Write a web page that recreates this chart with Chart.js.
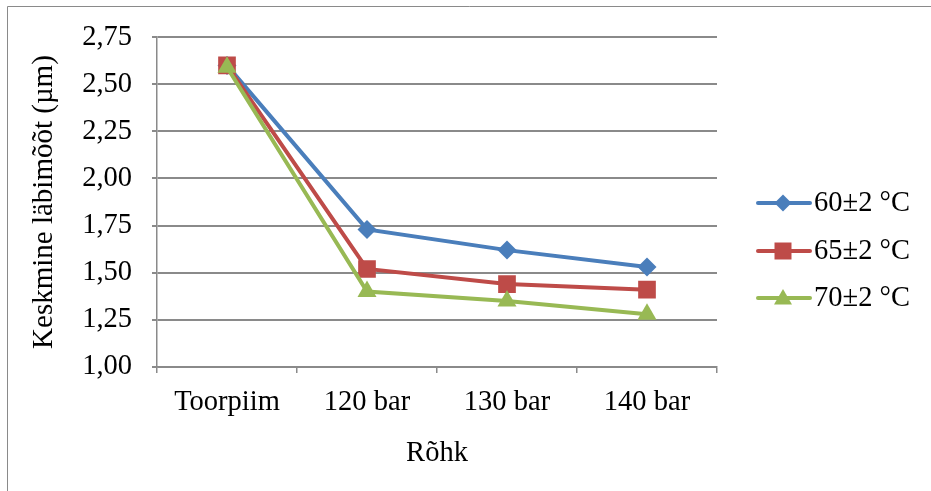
<!DOCTYPE html>
<html>
<head>
<meta charset="utf-8">
<script src="https://cdn.jsdelivr.net/npm/chart.js@4/dist/chart.umd.min.js"></script>
<style>
  html, body { margin: 0; padding: 0; background: #fff; }
  #wrap { position: relative; width: 931px; height: 491px; }
</style>
</head>
<body>
<div id="wrap"><canvas id="c" width="931" height="491"></canvas></div>
<script>
// Categories along the pressure axis
const categories = ['Toorpiim', '120 bar', '130 bar', '140 bar'];

// Mean particle size (µm) per temperature
const series60 = [2.60, 1.73, 1.62, 1.53];
const series65 = [2.60, 1.52, 1.44, 1.41];
const series70 = [2.59, 1.40, 1.35, 1.28];

const seriesLabels = ['60±2 °C', '65±2 °C', '70±2 °C'];

// Value axis settings
const yMin = 1.0, yMax = 2.75, yStep = 0.25;

const FONT = 'Liberation Serif, "Times New Roman", serif';
const colors = ['#4A7EBB', '#BE4B48', '#98B954'];
const markers = ['rectRot', 'rect', 'triangle'];
const markerRadius = [9.5, 12.5, 11];

function fmt(v) { return v.toFixed(2).replace('.', ','); }

// Small legend marker, sized like the key symbols
function drawKeyMarker(ctx, style, x, y, color) {
  ctx.save();
  ctx.fillStyle = color;
  ctx.beginPath();
  if (style === 'rectRot') {
    const r = 8.5;
    ctx.moveTo(x, y - r); ctx.lineTo(x + r, y); ctx.lineTo(x, y + r); ctx.lineTo(x - r, y);
  } else if (style === 'rect') {
    const r = 8.5;
    ctx.rect(x - r, y - r, 2 * r, 2 * r);
  } else {
    ctx.moveTo(x, y - 9); ctx.lineTo(x + 9, y + 6.5); ctx.lineTo(x - 9, y + 6.5);
  }
  ctx.closePath();
  ctx.fill();
  ctx.restore();
}

// Outer frame and side legend (line + marker, then label)
const framePlugin = {
  id: 'frameAndLegend',
  beforeDraw(chart) {
    const ctx = chart.ctx;
    ctx.save();
    ctx.strokeStyle = '#8a8a8a';
    ctx.lineWidth = 1;
    ctx.beginPath();
    ctx.moveTo(7.5, 500); ctx.lineTo(7.5, 6.5); ctx.lineTo(940, 6.5);
    ctx.stroke();
    ctx.restore();
  },
  afterDraw(chart) {
    const ctx = chart.ctx;
    const rows = [203, 251, 298];
    chart.data.datasets.forEach((ds, i) => {
      const y = rows[i];
      ctx.save();
      ctx.strokeStyle = ds.borderColor;
      ctx.lineWidth = 4;
      ctx.lineCap = 'round';
      ctx.beginPath();
      ctx.moveTo(758, y); ctx.lineTo(810, y);
      ctx.stroke();
      ctx.restore();
      drawKeyMarker(ctx, ds.pointStyle, 783, y, ds.pointBackgroundColor);
      ctx.save();
      ctx.fillStyle = '#000';
      ctx.font = '28.5px ' + FONT;
      ctx.textBaseline = 'middle';
      ctx.textAlign = 'left';
      ctx.fillText(ds.label, 814, y + 1);
      ctx.restore();
    });
  }
};

const seriesData = [series60, series65, series70];
const datasets = seriesData.map((d, i) => ({
  label: seriesLabels[i],
  data: d,
  order: 3 - i,
  borderColor: colors[i],
  backgroundColor: colors[i],
  pointBackgroundColor: colors[i],
  pointBorderColor: colors[i],
  pointBorderWidth: 0,
  pointStyle: markers[i],
  pointRadius: markerRadius[i],
  pointHoverRadius: markerRadius[i],
  borderWidth: 4,
  tension: 0,
  fill: false
}));

new Chart(document.getElementById('c'), {
  type: 'line',
  data: { labels: categories, datasets },
  options: {
    responsive: false,
    animation: false,
    devicePixelRatio: 1,
    layout: { padding: { left: 0, right: 214, top: 36, bottom: 0 } },
    plugins: { legend: { display: false }, tooltip: { enabled: false } },
    scales: {
      x: {
        type: 'category',
        offset: true,
        afterFit(s) { s.height = 124; },
        grid: {
          offset: true,
          drawOnChartArea: false,
          drawTicks: true,
          tickLength: 6,
          color: '#8a8a8a',
          lineWidth: 1.5
        },
        border: { color: '#8a8a8a', width: 1.5 },
        ticks: {
          color: '#000',
          font: { family: FONT, size: 28.5 },
          padding: 12,
          maxRotation: 0,
          autoSkip: false
        },
        title: {
          display: true,
          text: 'Rõhk',
          color: '#000',
          font: { family: FONT, size: 28.5 },
          padding: { top: 0, bottom: 20 }
        }
      },
      y: {
        min: yMin,
        max: yMax,
        afterFit(s) { s.width = 157; },
        ticks: {
          stepSize: yStep,
          color: '#000',
          font: { family: FONT, size: 28.5 },
          padding: 20,
          callback: v => fmt(v)
        },
        grid: {
          color: '#8a8a8a',
          lineWidth: 2,
          tickLength: 5
        },
        border: { color: '#8a8a8a', width: 1.5 },
        title: {
          display: true,
          text: 'Keskmine läbimõõt (µm)',
          color: '#000',
          font: { family: FONT, size: 29 },
          padding: { top: 27, bottom: 0 }
        }
      }
    }
  },
  plugins: [framePlugin]
});
</script>
</body>
</html>
